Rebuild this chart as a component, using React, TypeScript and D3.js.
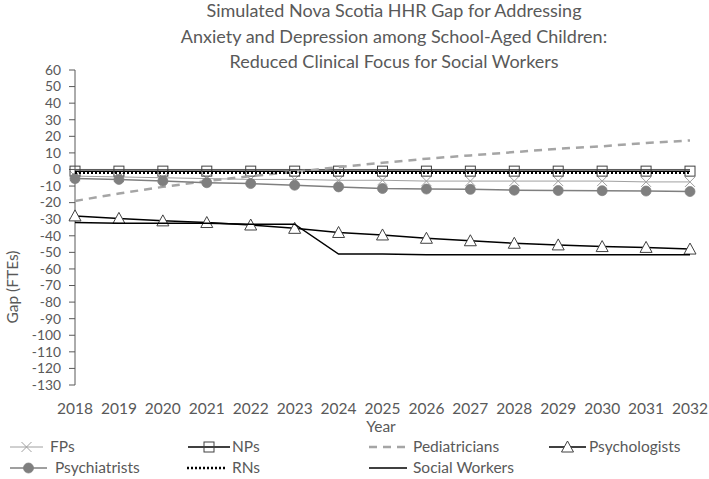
import React from "react";
import * as d3 from "d3";

const years = ["2018","2019","2020","2021","2022","2023","2024","2025","2026","2027","2028","2029","2030","2031","2032"];
const fps = [-4, -4.5, -5, -5.5, -6, -6, -6.5, -6.5, -7, -7, -7, -7, -7, -7.5, -7.5];
const nps = [-1, -1, -1, -1, -1, -1, -1, -1, -1, -1, -1, -1, -1, -1, -1];
const pediatricians = [-19, -14.5, -10.5, -7, -4, -1.5, 1.5, 4, 6.5, 8.5, 10.5, 12.5, 14, 16, 17.5];
const psychologists = [-28, -29.5, -31, -32, -33.5, -35.5, -38, -39.5, -41.5, -43, -44.5, -45.5, -46.5, -47, -48];
const psychiatrists = [-5.5, -6, -7, -8, -8.5, -9.5, -10.5, -11.5, -11.8, -12, -12.5, -12.7, -12.8, -13, -13.3];
const rns = [-2, -2, -2, -2, -2, -2, -2, -2, -2, -2, -2, -2, -2, -2, -2];
const socialWorkers = [-32, -32.5, -32.5, -32.5, -33, -33, -51, -51, -51.5, -51.5, -51.5, -51.5, -51.5, -51.5, -51.5];
const yTicks = [60, 50, 40, 30, 20, 10, 0, -10, -20, -30, -40, -50, -60, -70, -80, -90, -100, -110, -120, -130];
const titleLines = [
  "Simulated Nova Scotia HHR Gap for Addressing",
  "Anxiety and Depression among School-Aged Children:",
  "Reduced Clinical Focus for Social Workers",
];

type Marker = "x" | "square" | "none" | "triangle" | "circle";
interface Series { name: string; values: number[]; color: string; width: number; dash?: string; marker: Marker }

const series: Series[] = [
  { name: "FPs", values: fps, color: "#A0A0A0", width: 1, marker: "x" },
  { name: "NPs", values: nps, color: "#000000", width: 1.5, marker: "square" },
  { name: "Pediatricians", values: pediatricians, color: "#A5A5A5", width: 2.5, dash: "8,6", marker: "none" },
  { name: "Psychologists", values: psychologists, color: "#000000", width: 1.5, marker: "triangle" },
  { name: "Psychiatrists", values: psychiatrists, color: "#7F7F7F", width: 1.5, marker: "circle" },
  { name: "RNs", values: rns, color: "#000000", width: 2.5, dash: "2,2", marker: "none" },
  { name: "Social Workers", values: socialWorkers, color: "#000000", width: 1.5, marker: "none" },
];

const FONT = "Lato, 'Open Sans', sans-serif";
const TXT = "#595959";

function MarkerShape({ type, x, y, color }: { type: Marker; x: number; y: number; color: string }) {
  if (type === "x") {
    const s = 5;
    return (
      <path d={`M${x - s},${y - s}L${x + s},${y + s}M${x - s},${y + s}L${x + s},${y - s}`} stroke={color} strokeWidth={1} fill="none" />
    );
  }
  if (type === "square") {
    return <rect x={x - 5} y={y - 5} width={10} height={10} fill="none" stroke="#404040" strokeWidth={1} />;
  }
  if (type === "triangle") {
    return (
      <path d={`M${x},${y - 6}L${x + 6},${y + 5}L${x - 6},${y + 5}Z`} fill="#ffffff" stroke="#404040" strokeWidth={1} />
    );
  }
  if (type === "circle") {
    return <circle cx={x} cy={y} r={5} fill="#7F7F7F" stroke="#7F7F7F" strokeWidth={0.75} />;
  }
  return null;
}

export default function App() {
  const W = 709, H = 479;
  const x = d3.scalePoint<string>().domain(years).range([75, 690]);
  const y = d3.scaleLinear().domain([-130, 60]).range([385, 70]);
  const line = d3.line<number>().x((_, i) => x(years[i]) as number).y((d) => y(d));

  const legendPos = [
    { sx: 10, tx: 50, y: 447 },
    { sx: 188, tx: 232, y: 447 },
    { sx: 369, tx: 413, y: 447 },
    { sx: 549, tx: 589, y: 447 },
    { sx: 10, tx: 55, y: 468 },
    { sx: 187, tx: 232, y: 468 },
    { sx: 369, tx: 413, y: 468 },
  ];
  const legendLen = [33, 42, 38, 37, 37, 40, 38];

  return (
    <svg width={W} height={H} style={{ position: "absolute", left: 0, top: 0, background: "#fff" }} fontFamily={FONT}>
      <rect x={0} y={0} width={W} height={H} fill="#fff" />
      {titleLines.map((t, i) => (
        <text key={i} x={394} y={11 + i * 25.5} dy="0.35em" textAnchor="middle" fontSize={18} fill={TXT}>{t}</text>
      ))}
      {/* y axis */}
      <line x1={75} x2={75} y1={y(60)} y2={y(-130)} stroke="#595959" strokeWidth={1} />
      {yTicks.map((t) => (
        <g key={t}>
          <line x1={69} x2={75} y1={y(t)} y2={y(t)} stroke="#595959" strokeWidth={1} />
          <text x={61} y={y(t)} dy="0.35em" textAnchor="end" fontSize={13.8} fill={TXT}>{t}</text>
        </g>
      ))}
      <text transform={`translate(13,${287}) rotate(-90)`} dy="0.35em" textAnchor="middle" fontSize={15.5} fill={TXT}>Gap (FTEs)</text>
      {/* x axis line at zero */}
      <line x1={75} x2={690} y1={y(0)} y2={y(0)} stroke="#595959" strokeWidth={1} />
      {years.map((yr) => (
        <text key={yr} x={x(yr) as number} y={409} dy="0.35em" textAnchor="middle" fontSize={15.5} fill={TXT}>{yr}</text>
      ))}
      <text x={381} y={427} dy="0.35em" textAnchor="middle" fontSize={15.5} fill={TXT}>Year</text>
      {/* series */}
      {series.map((s) => (
        <g key={s.name}>
          <path d={line(s.values) || ""} fill="none" stroke={s.color} strokeWidth={s.width} strokeDasharray={s.dash} />
          {s.values.map((v, i) => (
            <MarkerShape key={i} type={s.marker} x={x(years[i]) as number} y={y(v)} color={s.color} />
          ))}
        </g>
      ))}
      {/* legend */}
      {series.map((s, i) => {
        const p = legendPos[i];
        const len = legendLen[i];
        return (
          <g key={s.name}>
            <line x1={p.sx} x2={p.sx + len} y1={p.y} y2={p.y} stroke={s.color} strokeWidth={s.width} strokeDasharray={s.dash} />
            <MarkerShape type={s.marker} x={p.sx + len / 2} y={p.y} color={s.color} />
            <text x={p.tx} y={p.y} dy="0.35em" fontSize={15.5} fill={TXT}>{s.name}</text>
          </g>
        );
      })}
    </svg>
  );
}
